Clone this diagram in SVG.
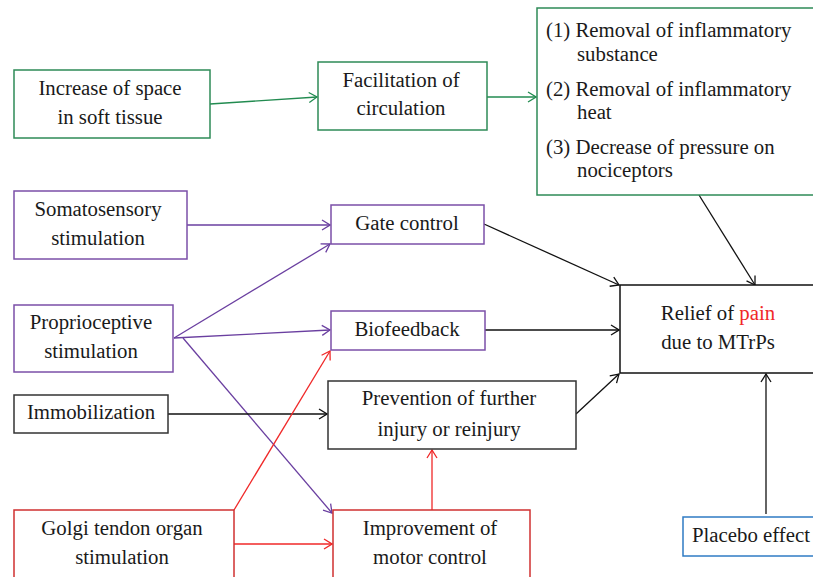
<svg xmlns="http://www.w3.org/2000/svg" width="813" height="577" viewBox="0 0 813 577">
<style>
text{font-family:"Liberation Serif","Times New Roman",serif;font-size:20.8px;fill:#1a1a1a;text-anchor:middle}
.l{text-anchor:start}
rect{fill:#fff;stroke-width:1.5}
.g{stroke:#2e8b57}
.p{stroke:#7b4fa8}
.k{stroke:#333}
.r{stroke:#d03030}
.b{stroke:#2f7bc4}
line{stroke-width:1.3;fill:none}
.lg{stroke:#228b50}
.lp{stroke:#6a3fa0}
.lk{stroke:#111}
.lr{stroke:#f02828}
</style>
<defs>
<marker id="ag" markerWidth="10" markerHeight="12" refX="9" refY="6" orient="auto" markerUnits="userSpaceOnUse"><path d="M1,1 L9,6 L1,11" fill="none" stroke="#228b50" stroke-width="1.3"/></marker>
<marker id="ap" markerWidth="10" markerHeight="12" refX="9" refY="6" orient="auto" markerUnits="userSpaceOnUse"><path d="M1,1 L9,6 L1,11" fill="none" stroke="#6a3fa0" stroke-width="1.3"/></marker>
<marker id="ak" markerWidth="10" markerHeight="12" refX="9" refY="6" orient="auto" markerUnits="userSpaceOnUse"><path d="M1,1 L9,6 L1,11" fill="none" stroke="#111" stroke-width="1.3"/></marker>
<marker id="ar" markerWidth="10" markerHeight="12" refX="9" refY="6" orient="auto" markerUnits="userSpaceOnUse"><path d="M1,1 L9,6 L1,11" fill="none" stroke="#f02828" stroke-width="1.3"/></marker>
</defs>
<g id="connectors">
<line class="lg" x1="210" y1="104" x2="317" y2="97" marker-end="url(#ag)"/>
<line class="lg" x1="487" y1="97" x2="536" y2="97" marker-end="url(#ag)"/>
<line class="lp" x1="187" y1="225" x2="330" y2="225" marker-end="url(#ap)"/>
<line class="lp" x1="174" y1="338" x2="330" y2="244" marker-end="url(#ap)"/>
<line class="lp" x1="174" y1="338" x2="330" y2="330" marker-end="url(#ap)"/>
<line class="lp" x1="183" y1="338" x2="332" y2="513" marker-end="url(#ap)"/>
<line class="lk" x1="168" y1="414" x2="327" y2="414" marker-end="url(#ak)"/>
<line class="lr" x1="234" y1="510" x2="330" y2="351" marker-end="url(#ar)"/>
<line class="lr" x1="234" y1="544" x2="332" y2="544" marker-end="url(#ar)"/>
<line class="lr" x1="432" y1="510" x2="432" y2="450" marker-end="url(#ar)"/>
<line class="lk" x1="484" y1="224" x2="619" y2="285" marker-end="url(#ak)"/>
<line class="lk" x1="699" y1="195" x2="755" y2="285" marker-end="url(#ak)"/>
<line class="lk" x1="485" y1="330" x2="619" y2="330" marker-end="url(#ak)"/>
<line class="lk" x1="576" y1="414" x2="619" y2="374" marker-end="url(#ak)"/>
<line class="lk" x1="766" y1="514" x2="766" y2="374" marker-end="url(#ak)"/>
</g>
<g id="space"><rect class="g" x="14" y="70" width="196" height="68"/><text x="110" y="95">Increase of space</text><text x="110" y="124">in soft tissue</text></g>
<g id="circulation"><rect class="g" x="318" y="62" width="169" height="68"/><text x="401" y="87">Facilitation of</text><text x="401" y="115">circulation</text></g>
<g id="removal"><rect class="g" x="537" y="8" width="280" height="187"/>
<text class="l" x="546" y="37">(1) Removal of inflammatory</text><text class="l" x="577" y="61">substance</text>
<text class="l" x="546" y="96">(2) Removal of inflammatory</text><text class="l" x="577" y="119">heat</text>
<text class="l" x="546" y="154">(3) Decrease of pressure on</text><text class="l" x="577" y="177">nociceptors</text></g>
<g id="somatosensory"><rect class="p" x="14" y="191" width="173" height="68"/><text x="98" y="216">Somatosensory</text><text x="98" y="245">stimulation</text></g>
<g id="gate"><rect class="p" x="331" y="205" width="153" height="39"/><text x="407" y="230">Gate control</text></g>
<g id="proprioceptive"><rect class="p" x="14" y="305" width="159" height="67"/><text x="91" y="329">Proprioceptive</text><text x="91" y="358">stimulation</text></g>
<g id="biofeedback"><rect class="p" x="331" y="311" width="154" height="39"/><text x="407" y="336">Biofeedback</text></g>
<g id="immobilization"><rect class="k" x="14" y="395" width="154" height="38"/><text x="91" y="419">Immobilization</text></g>
<g id="prevention"><rect class="k" x="328" y="381" width="248" height="68"/><text x="449" y="405">Prevention of further</text><text x="449" y="436">injury or reinjury</text></g>
<g id="golgi"><rect class="r" x="14" y="510" width="220" height="80"/><text x="122" y="535">Golgi tendon organ</text><text x="122" y="564">stimulation</text></g>
<g id="motor"><rect class="r" x="333" y="510" width="197" height="80"/><text x="430" y="535">Improvement of</text><text x="430" y="564">motor control</text></g>
<g id="relief"><rect class="k" x="620" y="285" width="200" height="88" style="stroke:#111"/><text x="718" y="320">Relief of <tspan fill="#f02828">pain</tspan></text><text x="718" y="349">due to MTrPs</text></g>
<g id="placebo"><rect class="b" x="683" y="517" width="135" height="39"/><text x="751" y="542">Placebo effect</text></g>
</svg>
